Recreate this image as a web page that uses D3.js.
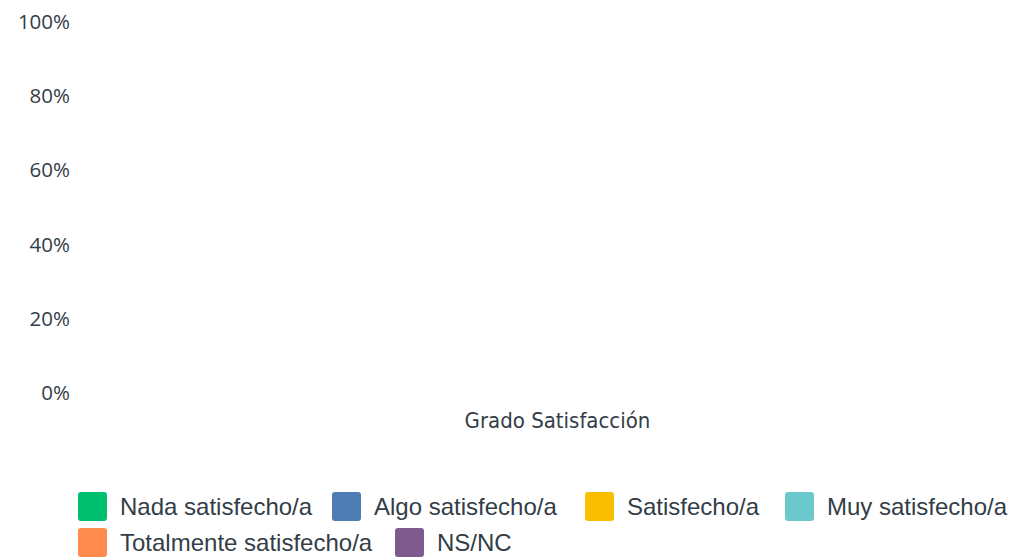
<!DOCTYPE html>
<html>
<head>
<meta charset="utf-8">
<script src="https://cdn.jsdelivr.net/npm/d3@7"></script>
<style>
  body { margin: 0; background: #fff; }
  svg { display: block; }
  .tick-label { font-family: "Open Sans", sans-serif; font-size: 20.5px; fill: #333d47; }
  .axis-title { font-family: "DejaVu Sans Condensed", "DejaVu Sans", sans-serif; font-size: 22px; fill: #333d47; }
  .legend-label { font-family: "Liberation Sans", Arial, sans-serif; font-size: 24px; fill: #333d47; }
</style>
</head>
<body>
<svg id="chart" width="1010" height="558"></svg>
<script>
// Categories on the x axis
const categories = ["Grado Satisfacción"];

// Series (all empty in the reference)
const seriesNames = ["Nada satisfecho/a", "Algo satisfecho/a", "Satisfecho/a", "Muy satisfecho/a", "Totalmente satisfecho/a", "NS/NC"];
const seriesValues = [[0], [0], [0], [0], [0], [0]];
const seriesColors = ["#00bf6f", "#507cb6", "#f9be00", "#6bc8cd", "#ff8b4f", "#7f5a8f"];

// Y tick values
const yTicks = [0, 0.2, 0.4, 0.6, 0.8, 1];

const svg = d3.select("#chart");

const xScale = d3.scaleBand()
    .domain(categories)
    .range([105, 1010])
    .padding(0.3);

const yScale = d3.scaleLinear()
    .domain([0, 1])
    .range([393, 22]);

// Y axis labels only
const yAxis = d3.axisLeft(yScale)
    .tickValues(yTicks)
    .tickFormat(d3.format(".0%"))
    .tickSize(0)
    .tickPadding(0);

const gY = svg.append("g")
    .attr("transform", "translate(70,0)")
    .call(yAxis);
gY.select(".domain").remove();
gY.selectAll("text")
    .attr("class", "tick-label")
    .attr("font-size", null)
    .attr("font-family", null)
    .attr("fill", null);

// Stacked bars (zero height in this chart)
const rows = categories.map((c, i) => {
    const row = { category: c };
    seriesNames.forEach((s, j) => { row[s] = seriesValues[j][i]; });
    return row;
});
const stack = d3.stack().keys(seriesNames)(rows);

svg.append("g").selectAll("g")
    .data(stack)
    .join("g")
    .attr("fill", (d, i) => seriesColors[i])
    .selectAll("rect")
    .data(d => d)
    .join("rect")
    .attr("x", d => xScale(d.data.category))
    .attr("width", xScale.bandwidth())
    .attr("y", d => yScale(d[1]))
    .attr("height", d => yScale(d[0]) - yScale(d[1]));

// X axis category label
const xAxis = d3.axisBottom(xScale).tickSize(0).tickPadding(0);
const gX = svg.append("g")
    .attr("transform", "translate(0,420)")
    .call(xAxis);
gX.select(".domain").remove();
gX.selectAll("text")
    .attr("class", "axis-title")
    .attr("font-size", null)
    .attr("font-family", null)
    .attr("fill", null)
    .attr("dy", "0.35em");

// Legend
const legendPos = [
    [78, 492], [332, 492], [585, 492], [785, 492],
    [78, 528], [395, 528]
];

const legend = svg.append("g").selectAll("g")
    .data(seriesNames)
    .join("g")
    .attr("transform", (d, i) => `translate(${legendPos[i][0]},${legendPos[i][1]})`);

legend.append("rect")
    .attr("width", 29)
    .attr("height", 29)
    .attr("rx", 3)
    .attr("fill", (d, i) => seriesColors[i]);

legend.append("text")
    .attr("class", "legend-label")
    .attr("x", 42)
    .attr("y", 15)
    .attr("dy", "0.35em")
    .text(d => d);
</script>
</body>
</html>
